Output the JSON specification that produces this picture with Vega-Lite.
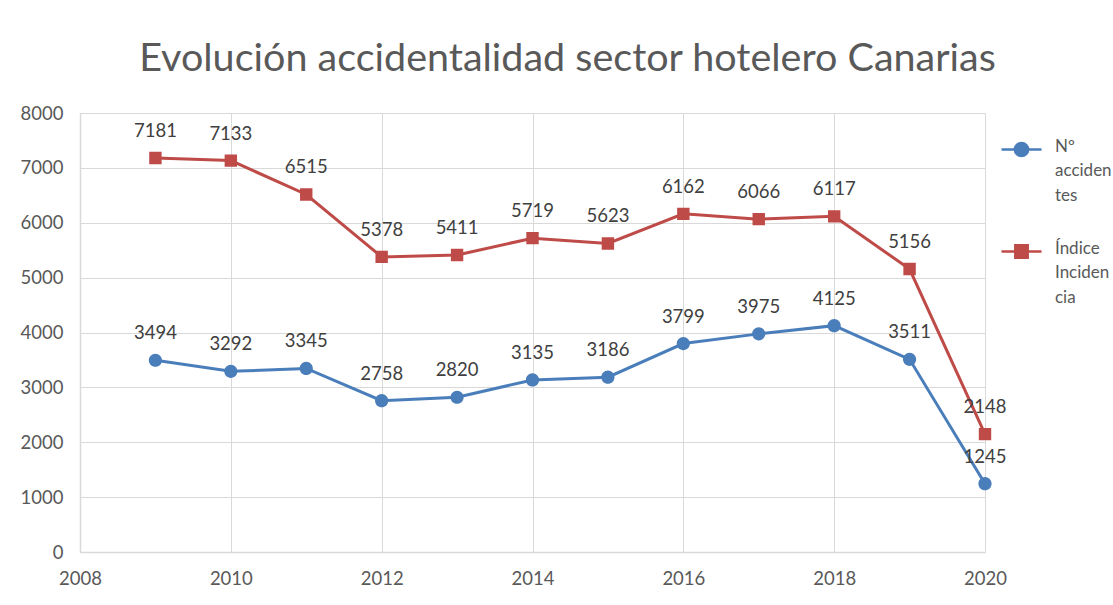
{
  "$schema": "https://vega.github.io/schema/vega-lite/v6.json",
  "autosize": "none",
  "width": 905,
  "height": 439,
  "padding": {"left": 80, "top": 113, "right": 128, "bottom": 53},
  "background": "white",
  "title": {
    "text": "Evolución accidentalidad sector hotelero Canarias",
    "font": "Lato",
    "fontSize": 39.5,
    "fontWeight": "normal",
    "color": "#595959",
    "anchor": "middle",
    "dx": 35,
    "dy": 47,
    "baseline": "alphabetic",
    "offset": 41
  },
  "config": {
    "view": {"stroke": null},
    "font": "Lato",
    "axis": {
      "labelFont": "Lato",
      "labelFontSize": 18.5,
      "labelColor": "#595959",
      "gridColor": "#d9d9d9",
      "gridWidth": 1,
      "domainColor": "#d9d9d9",
      "domainWidth": 1.5,
      "ticks": false,
      "title": null
    }
  },
  "data": {
    "values": [
      {"year": 2009, "serie": "Nº accidentes", "valor": 3494},
      {"year": 2010, "serie": "Nº accidentes", "valor": 3292},
      {"year": 2011, "serie": "Nº accidentes", "valor": 3345},
      {"year": 2012, "serie": "Nº accidentes", "valor": 2758},
      {"year": 2013, "serie": "Nº accidentes", "valor": 2820},
      {"year": 2014, "serie": "Nº accidentes", "valor": 3135},
      {"year": 2015, "serie": "Nº accidentes", "valor": 3186},
      {"year": 2016, "serie": "Nº accidentes", "valor": 3799},
      {"year": 2017, "serie": "Nº accidentes", "valor": 3975},
      {"year": 2018, "serie": "Nº accidentes", "valor": 4125},
      {"year": 2019, "serie": "Nº accidentes", "valor": 3511},
      {"year": 2020, "serie": "Nº accidentes", "valor": 1245},
      {"year": 2009, "serie": "Índice Incidencia", "valor": 7181},
      {"year": 2010, "serie": "Índice Incidencia", "valor": 7133},
      {"year": 2011, "serie": "Índice Incidencia", "valor": 6515},
      {"year": 2012, "serie": "Índice Incidencia", "valor": 5378},
      {"year": 2013, "serie": "Índice Incidencia", "valor": 5411},
      {"year": 2014, "serie": "Índice Incidencia", "valor": 5719},
      {"year": 2015, "serie": "Índice Incidencia", "valor": 5623},
      {"year": 2016, "serie": "Índice Incidencia", "valor": 6162},
      {"year": 2017, "serie": "Índice Incidencia", "valor": 6066},
      {"year": 2018, "serie": "Índice Incidencia", "valor": 6117},
      {"year": 2019, "serie": "Índice Incidencia", "valor": 5156},
      {"year": 2020, "serie": "Índice Incidencia", "valor": 2148}
    ]
  },
  "encoding": {
    "x": {
      "field": "year",
      "type": "quantitative",
      "scale": {"domain": [2008, 2020], "nice": false, "zero": false},
      "axis": {
        "values": [2008, 2010, 2012, 2014, 2016, 2018, 2020],
        "format": "d",
        "labelPadding": 17,
        "grid": true,
        "domain": true,
        "labelFlush": false
      }
    },
    "y": {
      "field": "valor",
      "type": "quantitative",
      "scale": {"domain": [0, 8000], "nice": false},
      "axis": {
        "values": [0, 1000, 2000, 3000, 4000, 5000, 6000, 7000, 8000],
        "format": "d",
        "labelPadding": 17,
        "grid": true,
        "domain": true
      }
    },
    "color": {
      "field": "serie",
      "type": "nominal",
      "sort": ["Nº accidentes", "Índice Incidencia"],
      "scale": {"domain": ["Nº accidentes", "Índice Incidencia"], "range": ["#4a7ebb", "#be4b48"]},
      "legend": {
        "title": null,
        "orient": "none",
        "legendX": 920,
        "legendY": 15,
        "padding": 0,
        "symbolSize": 1600,
        "symbolStrokeWidth": 2.5,
        "labelFont": "Lato",
        "labelFontSize": 17,
        "labelColor": "#595959",
        "labelOffset": 12,
        "labelLimit": 0,
        "labelBaseline": "top",
        "rowPadding": 26,
        "labelExpr": "datum.label == 'Nº accidentes' ? ['Nº', 'acciden', 'tes'] : ['Índice', 'Inciden', 'cia']",
        "encode": {
          "labels": {
            "update": {
              "lineHeight": {"value": 24.5},
              "dy": {"value": -11}
            }
          },
          "symbols": {
            "update": {
              "stroke": {"signal": "datum.value == 'Nº accidentes' ? '#4a7ebb' : '#be4b48'"},
              "strokeWidth": {"value": 2.5},
              "opacity": {"value": 1}
            }
          }
        }
      }
    }
  },
  "layer": [
    {
      "mark": {"type": "line", "strokeWidth": 3}
    },
    {
      "mark": {"type": "point", "filled": true, "opacity": 1, "size": 1600},
      "encoding": {
        "shape": {
          "field": "serie",
          "type": "nominal",
          "scale": {
            "domain": ["Nº accidentes", "Índice Incidencia"],
            "range": [
              "M-1,0H1M0,-0.33A0.33,0.33,0,1,1,0,0.33A0.33,0.33,0,1,1,0,-0.33Z",
              "M-1,0H1M-0.31,-0.31H0.31V0.31H-0.31Z"
            ]
          },
          "legend": null
        }
      }
    },
    {
      "mark": {"type": "text", "baseline": "middle", "dy": -27, "fontSize": 18.5, "font": "Lato"},
      "encoding": {
        "text": {"field": "valor", "type": "quantitative", "format": "d"},
        "color": {"value": "#404040"}
      }
    }
  ]
}
